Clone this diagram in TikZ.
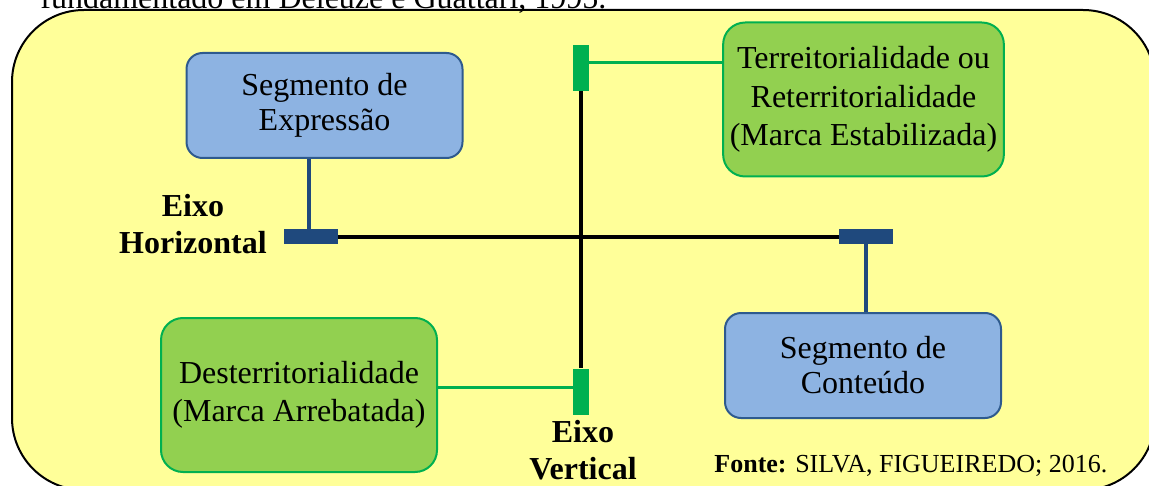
\documentclass[tikz,border=0pt]{standalone}
\usepackage{fontspec}
\setmainfont{Liberation Serif}
\usepackage{tikz}
\usetikzlibrary{calc,positioning,shapes}
\definecolor{paleyellow}{HTML}{FFFF99}
\definecolor{boxblue}{HTML}{8DB3E2}
\definecolor{edgeblue}{HTML}{2E5A8E}
\definecolor{darkblue}{HTML}{1F497D}
\definecolor{boxgreen}{HTML}{92D050}
\definecolor{markgreen}{HTML}{00B050}
\tikzset{
  segbox/.style={
    rectangle,
    rounded corners=8pt,
    fill=boxblue,
    draw=edgeblue, line width=1pt,
    minimum width=138pt,
    minimum height=52.5pt,
    align=center},
  markbox/.style={
    rectangle,
    rounded corners=11pt,
    fill=boxgreen,
    draw=markgreen, line width=1pt,
    minimum width=138pt,
    minimum height=77pt,
    font=\fontsize{16}{19.2}\selectfont,
    align=center},
  bluebar/.style={rectangle, fill=darkblue, inner sep=0pt,
    minimum width=27pt, minimum height=7.5pt},
  greenbar/.style={rectangle, fill=markgreen, inner sep=0pt,
    minimum width=8pt, minimum height=23pt},
  eixo/.style={draw=black, line width=2pt},
  bluelink/.style={draw=darkblue, line width=1.8pt},
  greenlink/.style={draw=markgreen, line width=1.5pt},
  axlabel/.style={align=center, font=\bfseries\fontsize{16}{18.5}\selectfont},
}

\begin{document}
\begin{tikzpicture}[x=0.5pt, y=-0.5pt, font=\fontsize{16}{17.5}\selectfont]
    \useasboundingbox (0,0) rectangle (1149,486);
    % fundo amarelo
    \draw[fill=paleyellow, line width=1pt, rounded corners=36pt]
        (12,10) rectangle (1155,490);
    \node[anchor=base west, inner sep=0pt] (titulo) at (40,8.5)
        {fundamentado em Deleuze e Guattari, 1995.};

    % caixas
    \node[segbox]  (expr) at (324.5,105.5) {Segmento de\\Expressão};
    \node[segbox]  (cont) at (863,365.5)   {Segmento de\\Conteúdo};
    \node[markbox] (terr) at (863.5,99.5)
        {Terreitorialidade ou\\Reterritorialidade\\(Marca Estabilizada)};
    \node[markbox] (dest) at (299,395)
        {Desterritorialidade\\(Marca Arrebatada)};

    % marcas dos eixos
    \node[bluebar]  (hbarL) at (311,236.5) {};
    \node[bluebar]  (hbarR) at (866,236.5) {};
    \node[greenbar] (vbarT) at (581,68)    {};
    \node[greenbar] (vbarB) at (581,391.5) {};

    % eixos
    \draw[eixo] (hbarL.east) -- (hbarR.west);
    \draw[eixo] (vbarT.south) -- (vbarB.north);

    % ligacoes
    \draw[bluelink] ([xshift=-1pt]hbarL.north) -- ([xshift=-1pt]hbarL.north |- expr.south);
    \draw[bluelink] (hbarR.south) -- (hbarR.south |- cont.north);
    \coordinate (tA) at ([yshift=2.5pt]vbarT.east);
    \draw[greenlink] (tA) -- (tA -| terr.west);
    \coordinate (dA) at ([yshift=2.25pt]vbarB.west);
    \draw[greenlink] (dA) -- (dA -| dest.east);

    % rotulos
    \node[axlabel] (eixoH) at (193,224) {Eixo\\Horizontal};
    \node[axlabel] (eixoV) at (583,450) {Eixo\\Vertical};
    \node[anchor=west, inner sep=0pt, font=\fontsize{13}{15}\selectfont]
        (fonte) at (714,466) {\textbf{Fonte:} SILVA, FIGUEIREDO; 2016.};
\end{tikzpicture}
\end{document}
